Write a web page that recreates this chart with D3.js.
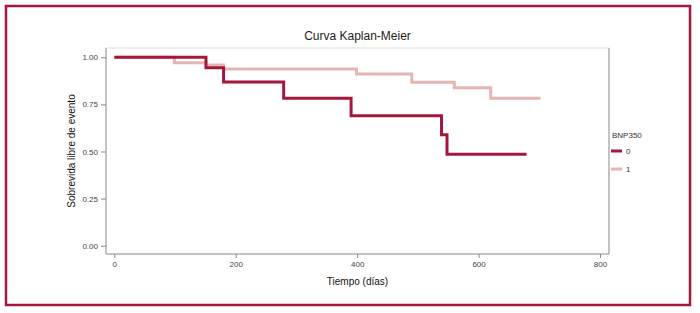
<!DOCTYPE html>
<html>
<head>
<meta charset="utf-8">
<script src="https://cdn.jsdelivr.net/npm/d3@7"></script>
<style>
  html, body { margin: 0; padding: 0; background: #fff; }
  svg { display: block; font-family: "Liberation Sans", Arial, sans-serif; }
</style>
</head>
<body>
<div id="vis-display"></div>
<script>
// Kaplan-Meier curve, two groups of BNP350.

const GROUPS = ["0", "1"];
const COLORS = ["#a3173c", "#e6b5b3"];

// step points: [time (días), survival]
const SURV_0 = [[0, 1.00], [151, 0.945], [180, 0.869], [279, 0.782], [390, 0.690], [539, 0.589], [548, 0.485], [679, 0.485]];
const SURV_1 = [[0, 1.00], [99, 0.971], [151, 0.959], [180, 0.938], [399, 0.911], [490, 0.867], [560, 0.839], [620, 0.782], [702, 0.782]];

const X_TICKS = [0, 200, 400, 600, 800];
const Y_TICKS = [0, 0.25, 0.5, 0.75, 1];

const W = 700, H = 313;
const plot = { left: 106, right: 609, top: 48, bottom: 254 };

const xScale = d3.scaleLinear().domain([0, 800]).range([114.3, 600]);
const yScale = d3.scaleLinear().domain([0, 1]).range([245.7, 57.3]);

const svg = d3.select("#vis-display").append("svg")
  .attr("width", W).attr("height", H);

// ── Outer frame ───────────────────────────────────────────────────────────
svg.append("rect")
  .attr("x", 6).attr("y", 6)
  .attr("width", 684).attr("height", 299)
  .attr("fill", "none")
  .attr("stroke", "#a3173c")
  .attr("stroke-width", 2.5);

// ── Title ─────────────────────────────────────────────────────────────────
svg.append("text")
  .attr("x", (plot.left + plot.right) / 2)
  .attr("y", 40)
  .attr("text-anchor", "middle")
  .style("font-size", "12px")
  .style("fill", "#222")
  .text("Curva Kaplan-Meier");

// ── Plot box (left, bottom, right, top in grey) ──────────────────────────
svg.append("rect")
  .attr("x", plot.left).attr("y", plot.top)
  .attr("width", plot.right - plot.left)
  .attr("height", plot.bottom - plot.top)
  .attr("fill", "none")
  .attr("stroke", "#ddd")
  .attr("stroke-width", 1);

svg.append("line")
  .attr("x1", plot.left).attr("x2", plot.left)
  .attr("y1", plot.top).attr("y2", plot.bottom)
  .attr("stroke", "#999");
svg.append("line")
  .attr("x1", plot.right).attr("x2", plot.right)
  .attr("y1", plot.top).attr("y2", plot.bottom)
  .attr("stroke", "#999");
svg.append("line")
  .attr("x1", plot.left).attr("x2", plot.right)
  .attr("y1", plot.bottom).attr("y2", plot.bottom)
  .attr("stroke", "#999");

// ── Axes ──────────────────────────────────────────────────────────────────
svg.append("g")
  .attr("transform", `translate(0,${plot.bottom})`)
  .call(d3.axisBottom(xScale).tickValues(X_TICKS).tickSize(4).tickPadding(3).tickFormat(d3.format("d")))
  .call(ax => ax.select(".domain").remove())
  .call(ax => ax.selectAll(".tick line").attr("stroke", "#888"))
  .selectAll("text")
    .style("font-size", "8px")
    .style("fill", "#444")
    .style("font-family", "Liberation Sans, Arial, sans-serif");

svg.append("g")
  .attr("transform", `translate(${plot.left},0)`)
  .call(d3.axisLeft(yScale).tickValues(Y_TICKS).tickSize(5).tickPadding(3).tickFormat(d3.format(".2f")))
  .call(ax => ax.select(".domain").remove())
  .call(ax => ax.selectAll(".tick line").attr("stroke", "#888"))
  .selectAll("text")
    .style("font-size", "8px")
    .style("fill", "#444")
    .style("font-family", "Liberation Sans, Arial, sans-serif");

svg.append("text")
  .attr("x", (plot.left + plot.right) / 2)
  .attr("y", 285)
  .attr("text-anchor", "middle")
  .style("font-size", "10px")
  .style("fill", "#111")
  .text("Tiempo (días)");

svg.append("text")
  .attr("transform", `translate(75,${(plot.top + plot.bottom) / 2}) rotate(-90)`)
  .attr("text-anchor", "middle")
  .style("font-size", "10px")
  .style("fill", "#111")
  .text("Sobrevida libre de evento");

// ── Curves ────────────────────────────────────────────────────────────────
const line = d3.line()
  .x(d => xScale(d[0]))
  .y(d => yScale(d[1]))
  .curve(d3.curveStepAfter);

[SURV_1, SURV_0].forEach((pts, i) => {
  const k = i === 0 ? 1 : 0;
  svg.append("path")
    .datum(pts)
    .attr("d", line)
    .attr("fill", "none")
    .attr("stroke", COLORS[k])
    .attr("stroke-width", 3);
});

// ── Legend ────────────────────────────────────────────────────────────────
svg.append("text")
  .attr("x", 612).attr("y", 138)
  .style("font-size", "8px")
  .style("fill", "#333")
  .text("BNP350");

GROUPS.forEach((g, i) => {
  const y = 151 + i * 18;
  svg.append("line")
    .attr("x1", 611).attr("x2", 622)
    .attr("y1", y).attr("y2", y)
    .attr("stroke", COLORS[i])
    .attr("stroke-width", 3);
  svg.append("text")
    .attr("x", 626).attr("y", y + 3)
    .style("font-size", "8px")
    .style("fill", "#333")
    .text(g);
});
</script>
</body>
</html>
